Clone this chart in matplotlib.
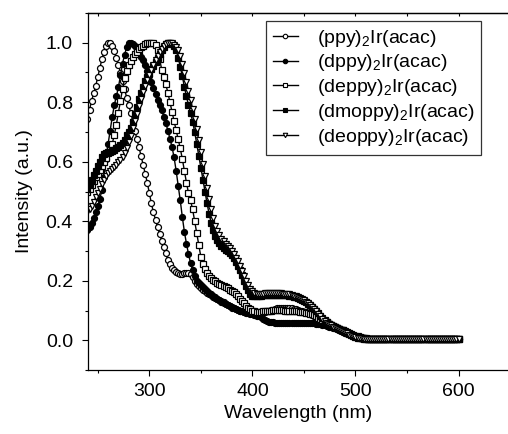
import numpy as np
import matplotlib
matplotlib.use("Agg")
import matplotlib.pyplot as plt
from matplotlib.ticker import MultipleLocator, FormatStrFormatter

plt.rcParams['font.family'] = ['Liberation Sans', 'DejaVu Sans']
plt.rcParams['mathtext.fontset'] = 'custom'
plt.rcParams['mathtext.rm'] = 'Liberation Sans'
plt.rcParams['mathtext.it'] = 'Liberation Sans:italic'
plt.rcParams['mathtext.bf'] = 'Liberation Sans:bold'

# wavelength grid (nm), 2 nm sampling
wavelength = np.arange(240, 601, 2)

ppy = [
    .745, .775, .805, .830, .855, .885, .915, .945, .970, .990,
    1.000, .998, .990, .972, .950, .925, .900, .870, .843, .815,
    .790, .765, .737, .705, .675, .648, .620, .590, .560, .530,
    .495, .460, .430, .405, .380, .357, .335, .314, .292, .270,
    .255, .243, .235, .229, .226, .224, .224, .225, .226, .226,
    .222, .212, .200, .190, .182, .176, .170, .164, .159, .155,
    .151, .147, .143, .139, .135, .131, .127, .123, .119, .115,
    .111, .108, .105, .102, .100, .098, .096, .094, .093, .092,
    .091, .090, .090, .090, .091, .093, .095, .097, .099, .101,
    .103, .105, .107, .108, .109, .109, .109, .109, .108, .107,
    .106, .104, .102, .100, .098, .096, .094, .092, .089, .085,
    .080, .075, .070, .066, .062, .058, .054, .050, .047, .044,
    .041, .038, .035, .032, .029, .026, .023, .020, .017, .015,
    .013, .011, .009, .008, .007, .006, .005, .005, .004, .004,
    .004, .004, .004, .003, .003, .003, .003, .003, .003, .003,
    .003, .003, .003, .003, .003, .004, .004, .004, .003, .003,
    .003, .003, .003, .003, .003, .003, .003, .003, .003, .003,
    .003, .003, .003, .003, .003, .003, .003, .003, .003, .003,
    .003,
]

dppy = [
    .370, .380, .395, .410, .430, .450, .475, .505, .550, .610,
    .660, .705, .750, .790, .820, .850, .890, .930, .960, .985,
    .998, 1.000, .995, .990, .978, .965, .953, .942, .925, .905,
    .888, .868, .848, .828, .808, .790, .774, .752, .730, .705,
    .678, .650, .615, .570, .520, .470, .415, .365, .325, .290,
    .260, .235, .215, .200, .192, .185, .178, .171, .165, .159,
    .154, .149, .144, .139, .134, .130, .126, .122, .118, .114,
    .110, .107, .104, .101, .099, .097, .095, .093, .091, .089,
    .087, .085, .083, .080, .077, .073, .069, .066, .063, .061,
    .060, .059, .058, .058, .058, .058, .058, .058, .058, .058,
    .058, .058, .058, .058, .058, .058, .058, .058, .058, .057,
    .057, .056, .055, .054, .052, .050, .048, .046, .044, .042,
    .040, .038, .035, .032, .029, .026, .023, .020, .017, .014,
    .012, .010, .008, .007, .006, .005, .005, .004, .004, .004,
    .004, .004, .004, .004, .004, .004, .004, .004, .004, .004,
    .004, .004, .004, .004, .004, .004, .004, .004, .004, .004,
    .004, .004, .004, .004, .004, .004, .004, .004, .004, .004,
    .004, .004, .004, .004, .004, .004, .004, .004, .004, .004,
    .004,
]

deppy = [
    .500, .510, .522, .535, .548, .560, .572, .585, .598, .612,
    .628, .640, .660, .690, .725, .765, .805, .845, .880, .905,
    .925, .940, .952, .962, .970, .978, .985, .990, .995, .998,
    .998, 1.000, .998, .993, .975, .945, .910, .885, .860, .832,
    .800, .768, .737, .706, .675, .645, .610, .570, .530, .495,
    .470, .440, .400, .360, .320, .280, .255, .238, .226, .217,
    .210, .204, .199, .194, .189, .185, .181, .178, .174, .170,
    .166, .161, .155, .148, .140, .132, .124, .116, .109, .104,
    .100, .097, .096, .096, .096, .097, .098, .099, .100, .100,
    .101, .101, .101, .101, .101, .101, .100, .100, .100, .099,
    .099, .098, .097, .096, .095, .094, .093, .091, .089, .087,
    .084, .080, .076, .072, .068, .064, .060, .056, .052, .048,
    .045, .042, .039, .036, .033, .030, .027, .024, .021, .018,
    .015, .013, .011, .009, .007, .006, .005, .005, .004, .004,
    .003, .003, .003, .003, .003, .003, .003, .003, .003, .003,
    .003, .003, .003, .003, .003, .003, .003, .003, .003, .003,
    .003, .003, .003, .003, .003, .003, .003, .003, .003, .003,
    .003, .003, .003, .003, .003, .003, .003, .003, .003, .003,
    .003,
]

dmoppy = [
    .510, .525, .540, .555, .570, .585, .600, .615, .625, .630,
    .632, .634, .636, .640, .645, .650, .655, .662, .672, .690,
    .700, .715, .735, .760, .785, .810, .830, .850, .870, .885,
    .900, .912, .922, .935, .948, .962, .975, .987, .995, 1.000,
    .998, .995, .990, .975, .950, .920, .888, .852, .820, .790,
    .765, .735, .700, .660, .620, .580, .540, .500, .460, .425,
    .395, .370, .352, .338, .327, .318, .311, .305, .299, .293,
    .285, .275, .262, .250, .237, .220, .200, .183, .168, .157,
    .150, .148, .148, .149, .150, .151, .152, .153, .153, .153,
    .153, .153, .153, .153, .153, .153, .152, .151, .150, .149,
    .147, .145, .142, .139, .135, .131, .127, .122, .117, .111,
    .105, .098, .090, .082, .074, .067, .061, .056, .052, .048,
    .045, .042, .039, .036, .033, .029, .025, .021, .017, .014,
    .011, .009, .007, .006, .005, .005, .004, .004, .004, .004,
    .004, .004, .004, .004, .004, .004, .004, .004, .004, .004,
    .004, .004, .004, .004, .004, .004, .004, .004, .004, .004,
    .004, .004, .004, .004, .004, .004, .004, .004, .004, .004,
    .004, .004, .004, .004, .004, .004, .004, .004, .004, .004,
    .004,
]

deoppy = [
    .430, .440, .452, .465, .480, .495, .510, .525, .540, .552,
    .562, .570, .577, .583, .590, .598, .607, .617, .630, .645,
    .665, .688, .712, .738, .762, .786, .810, .833, .855, .875,
    .893, .910, .926, .942, .956, .968, .978, .988, .995, .999,
    1.000, .998, .994, .987, .975, .955, .928, .898, .868, .838,
    .808, .778, .745, .710, .672, .632, .592, .552, .512, .475,
    .440, .410, .385, .367, .353, .342, .333, .325, .317, .309,
    .300, .290, .278, .265, .250, .234, .216, .199, .185, .173,
    .165, .160, .157, .156, .156, .157, .158, .158, .158, .158,
    .158, .158, .158, .158, .158, .157, .156, .155, .154, .152,
    .150, .148, .145, .142, .138, .134, .129, .124, .118, .112,
    .105, .097, .088, .080, .072, .065, .059, .054, .050, .046,
    .043, .040, .037, .034, .031, .027, .023, .019, .016, .013,
    .010, .008, .007, .006, .005, .005, .004, .004, .004, .004,
    .003, .003, .003, .003, .003, .003, .003, .003, .003, .003,
    .003, .003, .003, .003, .003, .003, .003, .003, .003, .003,
    .003, .003, .003, .003, .003, .003, .003, .003, .003, .003,
    .003, .003, .003, .003, .003, .003, .003, .003, .003, .003,
    .003,
]

labels = [r'(ppy)$_{\mathrm{2}}$Ir(acac)', r'(dppy)$_{\mathrm{2}}$Ir(acac)',
          r'(deppy)$_{\mathrm{2}}$Ir(acac)', r'(dmoppy)$_{\mathrm{2}}$Ir(acac)',
          r'(deoppy)$_{\mathrm{2}}$Ir(acac)']
series = [ppy, dppy, deppy, dmoppy, deoppy]
markers = ['o', 'o', 's', 's', 'v']
faces = ['white', 'black', 'white', 'black', 'white']

fig = plt.figure(figsize=(5.08, 4.34), dpi=100)
ax = fig.add_axes([88/508, 1-370/434, 420/508, 357/434])

for ys, m, fc, lab in zip(series, markers, faces, labels):
    ax.plot(wavelength, ys, linestyle='-', color='black', linewidth=1.0,
            marker=m, markersize=4.3, markerfacecolor=fc,
            markeredgecolor='black', markeredgewidth=0.9, label=lab)

ax.set_xlim(240.5, 648)
ax.set_ylim(-0.1, 1.1)
ax.xaxis.set_major_locator(MultipleLocator(100))
ax.xaxis.set_minor_locator(MultipleLocator(50))
ax.yaxis.set_major_locator(MultipleLocator(0.2))
ax.yaxis.set_minor_locator(MultipleLocator(0.1))
ax.yaxis.set_major_formatter(FormatStrFormatter('%.1f'))

ax.spines['right'].set_visible(False)
for s in ['left', 'bottom', 'top']:
    ax.spines[s].set_linewidth(0.9)

ax.tick_params(axis='both', which='major', direction='out', length=4.3,
               width=0.8, labelsize=14, top=False, right=False)
ax.tick_params(axis='both', which='minor', direction='out', length=2.5,
               width=0.8, top=False, right=False)
ax.tick_params(axis='y', which='major', pad=6.5)
ax.tick_params(axis='x', which='major', pad=5)

sec = ax.secondary_xaxis('top')
sec.xaxis.set_major_locator(MultipleLocator(100))
sec.xaxis.set_minor_locator(MultipleLocator(50))
sec.tick_params(which='both', direction='in', length=2, width=0.8, labeltop=False)
sec.spines['top'].set_linewidth(0.9)

ax.set_xlabel('Wavelength (nm)', fontsize=14, labelpad=4)
ax.set_ylabel('Intensity (a.u.)', fontsize=14, labelpad=9)

leg = ax.legend(loc='upper right', bbox_to_anchor=(481.3/508, 1-20.7/434),
                bbox_transform=fig.transFigure, borderaxespad=0,
                fontsize=14, frameon=True, fancybox=False, shadow=False,
                handlelength=1.25, handletextpad=1.0, labelspacing=0.2,
                borderpad=0.35, markerscale=1.0)
leg.get_frame().set_edgecolor('black')
leg.get_frame().set_linewidth(0.9)
for h in leg.legend_handles:
    h.set_markersize(3.2)
    h.set_linewidth(1.0)
    h.set_markeredgewidth(0.8)

fig.savefig('out.png', dpi=100)
